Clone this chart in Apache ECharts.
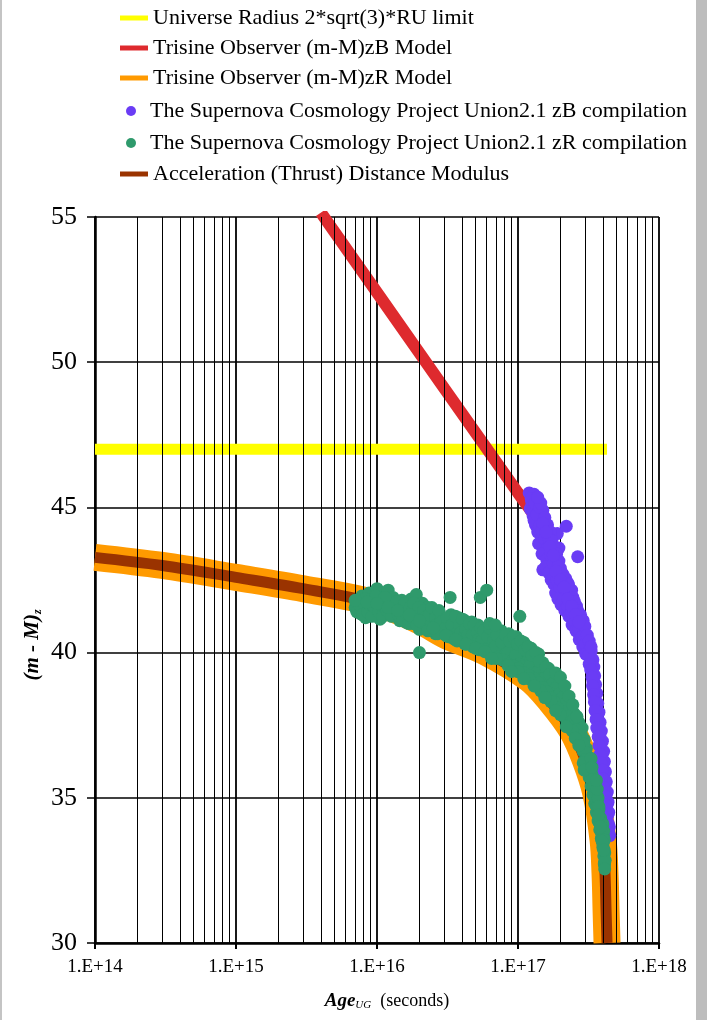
<!DOCTYPE html>
<html>
<head>
<meta charset="utf-8">
<script src="https://cdn.jsdelivr.net/npm/echarts@6/dist/echarts.min.js"></script>
<style>html,body{margin:0;padding:0;background:#fff}#chart{width:707px;height:1020px}</style>
</head>
<body>
<div id="chart"></div>
<script>
// ---------- data ----------
const seriesNames = [
  'Universe Radius 2*sqrt(3)*RU limit',
  'Trisine Observer (m-M)zB Model',
  'Trisine Observer (m-M)zR Model',
  'The Supernova Cosmology Project Union2.1 zB compilation',
  'The Supernova Cosmology Project Union2.1 zR compilation',
  'Acceleration (Thrust) Distance Modulus'
];
const xTickLabels = ['1.E+14', '1.E+15', '1.E+16', '1.E+17', '1.E+18'];
const xMinorGrid = [2e14,3e14,4e14,5e14,6e14,7e14,8e14,9e14,
                    2e15,3e15,4e15,5e15,6e15,7e15,8e15,9e15,
                    2e16,3e16,4e16,5e16,6e16,7e16,8e16,9e16,
                    2e17,3e17,4e17,5e17,6e17,7e17,8e17,9e17];

const radiusLimit = [[1e14, 47.0], [4.28e17, 47.0]];
const zBModel = [[4.0e15, 55.15], [1e16, 52.4], [3e16, 49.1], [1e17, 45.5], [1.3e17, 44.74]];
const zRModel = [[1e14, 43.28], [3e14, 43.0], [1e15, 42.59], [3e15, 42.2], [1e16, 41.69], [2e16, 41.1],
  [3.08e16, 40.59], [5.83e16, 40.03], [1.2e17, 39.1], [1.71e17, 38.31], [2.42e17, 37.31], [3.0e17, 36.3],
  [3.57e17, 35.14], [4.01e17, 33.55], [4.14e17, 32.41], [4.22e17, 31.0], [4.28e17, 30.0]];
const thrustModulus = [[1e14, 43.28], [3e14, 43.0], [1e15, 42.59], [3e15, 42.2], [1e16, 41.69], [2e16, 41.1],
  [3.08e16, 40.59], [5.83e16, 40.03], [1.2e17, 39.1], [1.71e17, 38.31], [2.42e17, 37.31], [3.0e17, 36.3],
  [3.57e17, 35.14], [4.01e17, 33.55], [4.14e17, 32.41], [4.22e17, 31.0], [4.28e17, 30.0]];

const zBPoints = [
  [1.2e17,45.5],[1.25e17,45.2],[1.3e17,45.45],[1.22e17,44.95],[1.35e17,45.0],[1.28e17,44.7],[1.4e17,44.8],
  [1.33e17,44.4],[1.45e17,44.55],[1.5e17,44.9],[1.38e17,44.15],[1.55e17,44.3],[1.47e17,43.95],[1.6e17,44.05],
  [1.9e17,44.1],[2.2e17,44.35],[1.52e17,43.7],[1.65e17,43.8],[1.58e17,43.45],[1.72e17,43.55],[1.5e17,42.85],
  [1.68e17,43.15],[1.8e17,43.3],[2.65e17,43.3],[1.75e17,42.9],[1.85e17,43.0],[1.95e17,43.6],[1.82e17,42.65],
  [1.9e17,42.75],[2.0e17,42.45],[1.95e17,42.2],[2.1e17,42.55],[2.05e17,41.95],[2.15e17,42.2],[2.25e17,42.4],
  [2.2e17,41.75],[2.3e17,41.95],[2.4e17,42.15],[2.35e17,41.5],[2.45e17,41.7],[2.55e17,41.35],[2.6e17,41.6],
  [2.5e17,41.1],[2.7e17,41.2],[2.65e17,40.85],[2.8e17,41.0],[2.75e17,40.6],[2.9e17,40.7],[2.95e17,40.35],
  [3.05e17,40.5],[3.1e17,40.1],[3.2e17,40.25],[3.25e17,39.85],[3.3e17,40.05],
  [3.3e17,39.6],[3.4e17,39.75],[3.35e17,39.35],[3.45e17,39.5],[3.4e17,39.0],[3.5e17,39.2],[3.45e17,38.75],
  [3.55e17,38.9],[3.5e17,38.45],[3.62e17,38.6],[3.58e17,38.1],[3.68e17,38.25],[3.65e17,37.8],[3.75e17,37.95],
  [3.72e17,37.5],[3.82e17,37.6],[3.8e17,37.15],[3.9e17,37.3],[3.88e17,36.85],[3.97e17,36.95],[3.95e17,36.5],
  [4.05e17,36.6],[4.02e17,36.15],[4.1e17,36.25],[4.08e17,35.8],[4.17e17,35.9],[4.15e17,35.45],[4.23e17,35.55],
  [4.22e17,35.1],[4.3e17,35.2],[4.28e17,34.75],[4.35e17,34.85],[4.33e17,34.4],[4.4e17,34.5],[4.38e17,34.1],
  [4.45e17,34.0],[4.47e17,33.7],
  [1.24e17,45.3],[1.27e17,44.9],[1.32e17,45.15],[1.3e17,44.55],[1.36e17,44.75],[1.42e17,44.35],[1.43e17,45.0],
  [1.48e17,44.2],[1.4e17,43.75],[1.55e17,43.9],[1.62e17,43.6],[1.48e17,43.4],[1.6e17,43.2],[1.7e17,43.35],
  [1.57e17,42.95],[1.65e17,42.75],[1.78e17,43.05],[1.72e17,42.5],[1.8e17,42.35],[1.88e17,42.5],[1.85e17,42.05],
  [1.98e17,42.25],[1.92e17,41.85],[2.02e17,41.65],[2.1e17,41.85],[2.15e17,41.45],[2.25e17,41.6],[2.3e17,41.25],
  [2.4e17,41.4],[2.42e17,40.95],[2.55e17,41.05],[2.58e17,40.75],[2.7e17,40.8],[2.72e17,40.45],[2.85e17,40.55],
  [2.88e17,40.2],[3.0e17,40.3],[3.02e17,39.95],[3.15e17,39.9],[3.2e17,39.6],[3.28e17,39.4],[3.35e17,39.15],
  [3.38e17,38.85],[3.44e17,38.55],[3.48e17,38.3],[3.52e17,38.0],[3.58e17,37.7],[3.62e17,37.4],[3.7e17,37.1],
  [3.75e17,36.8],[3.82e17,36.5],[3.88e17,36.2],[3.95e17,35.95],[4.0e17,35.65],[4.05e17,35.35],[4.12e17,35.05],
  [4.18e17,34.75],[4.22e17,34.45],[4.28e17,34.2],[4.32e17,33.9],[4.4e17,33.8],
  [1.55e17,44.65],[1.62e17,44.4],[1.7e17,44.15],[1.65e17,43.95],[1.74e17,43.85],[1.8e17,43.6],[1.88e17,43.4],
  [1.95e17,43.15],[2.0e17,42.9],[1.92e17,42.95],[2.08e17,42.7],[2.18e17,42.55],[2.28e17,42.35],[2.35e17,42.1],
  [2.45e17,41.9],[2.52e17,41.75],[2.65e17,41.45],[2.78e17,41.3],[2.9e17,41.1],[2.98e17,40.9],[3.1e17,40.6],
  [3.2e17,40.4],[3.3e17,40.2],[1.45e17,45.15],[1.38e17,45.35],[1.5e17,44.45],[1.58e17,44.15],[1.68e17,43.65],
  [1.78e17,43.35],[1.85e17,42.8],[2.0e17,42.5],[2.12e17,42.25],[2.25e17,41.85],[2.4e17,41.6],[2.55e17,41.3],
  [2.7e17,41.05]
];

const zRPoints = [
  [7.0e15,41.55],[7.3e15,41.8],[7.6e15,41.35],[7.8e15,41.95],[8.0e15,41.6],[8.3e15,41.2],[8.5e15,41.75],
  [8.8e15,42.05],[9.0e15,41.45],[9.3e15,41.85],[9.6e15,41.3],[1.0e16,42.2],[1.0e16,41.6],[1.05e16,41.15],
  [1.08e16,41.9],[1.12e16,41.5],[1.15e16,41.7],[1.2e16,42.15],[1.22e16,41.3],[1.25e16,41.6],
  [1.3e16,41.9],[1.35e16,41.3],[1.4e16,41.6],[1.45e16,41.1],[1.5e16,41.8],[1.55e16,41.45],[1.6e16,41.05],
  [1.65e16,41.65],[1.7e16,41.3],[1.75e16,41.85],[1.8e16,41.0],[1.85e16,41.5],[1.9e16,42.0],[1.95e16,41.2],
  [2.0e16,40.0],[2.0e16,40.8],[2.05e16,41.4],[2.1e16,41.7],[2.2e16,40.95],[2.25e16,41.25],[2.3e16,41.55],
  [2.4e16,40.8],[2.5e16,41.1],[2.55e16,41.4],[2.6e16,40.65],[2.7e16,41.0],[2.8e16,41.3],[2.9e16,40.85],
  [3.0e16,41.15],[3.1e16,40.6],[3.2e16,40.9],[3.3e16,41.9],[3.35e16,41.3],[3.45e16,40.5],[3.55e16,41.05],
  [3.7e16,40.75],[3.8e16,41.2],[3.9e16,40.45],[4.0e16,40.9],[4.1e16,40.65],[4.2e16,41.1],[4.35e16,40.35],
  [4.5e16,40.8],[4.6e16,40.55],[4.7e16,41.05],[4.8e16,40.25],[4.95e16,40.7],[5.1e16,40.45],[5.2e16,40.95],
  [5.4e16,41.9],[5.5e16,40.15],[5.6e16,40.6],[5.8e16,40.35],[6.0e16,42.15],[6.0e16,40.8],[6.2e16,40.05],
  [6.4e16,40.5],[6.6e16,40.25],[6.8e16,40.7],[7.0e16,39.95],[7.2e16,40.4],[7.4e16,40.15],
  [7.6e16,40.75],[7.8e16,40.1],[8.0e16,40.5],[8.3e16,40.25],[8.6e16,40.65],[8.8e16,39.9],[9.1e16,40.35],
  [9.4e16,40.1],[9.7e16,40.55],[1.0e17,39.75],[1.03e17,41.25],[1.03e17,40.2],[1.06e17,39.95],[1.1e17,40.35],
  [1.13e17,39.65],[1.16e17,40.05],[1.2e17,39.8],[1.24e17,40.15],[1.28e17,39.45],[1.32e17,39.85],[1.36e17,39.6],
  [1.4e17,39.95],[1.45e17,39.3],
  [1.5e17,39.65],[1.55e17,39.3],[1.6e17,39.05],[1.65e17,39.45],[1.7e17,38.9],[1.75e17,39.2],[1.8e17,38.7],
  [1.85e17,39.0],[1.9e17,38.5],[1.95e17,38.85],[2.0e17,38.35],[2.05e17,38.7],[2.1e17,38.15],[2.15e17,38.45],
  [2.2e17,37.95],[2.25e17,38.3],[2.3e17,37.8],[2.35e17,38.1],[2.4e17,37.6],[2.45e17,37.95],
  [2.5e17,37.9],[2.6e17,37.5],[2.65e17,37.1],[2.7e17,37.6],[2.75e17,37.2],[2.8e17,36.9],[2.85e17,37.4],
  [2.9e17,36.6],[2.95e17,37.0],[3.0e17,36.3],[3.05e17,36.7],[3.1e17,36.0],[3.15e17,36.4],[3.2e17,35.7],
  [3.25e17,36.1],[3.3e17,35.4],[3.35e17,35.8],[3.4e17,35.1],[3.45e17,35.5],[3.5e17,34.8],[3.55e17,35.2],
  [3.6e17,34.5],[3.65e17,34.9],[3.7e17,34.2],[3.75e17,34.6],[3.8e17,33.9],[3.85e17,34.3],[3.9e17,33.6],
  [3.95e17,34.0],[4.0e17,33.3],[4.03e17,33.7],[4.06e17,33.0],[4.1e17,32.7],
  [7.2e15,41.4],[7.5e15,41.65],[7.9e15,41.3],[8.2e15,41.85],[8.6e15,41.4],[8.9e15,41.65],[9.2e15,41.25],
  [9.5e15,41.6],[9.8e15,41.95],[1.03e16,41.4],[1.07e16,41.65],[1.1e16,41.25],[1.14e16,41.9],[1.18e16,41.45],
  [1.27e16,41.25],
  [1.32e16,41.55],[1.38e16,41.75],[1.42e16,41.3],[1.48e16,41.5],[1.52e16,41.15],[1.58e16,41.7],[1.62e16,41.35],
  [1.68e16,41.0],[1.72e16,41.55],[1.78e16,41.2],[1.82e16,41.7],[1.88e16,41.3],[1.92e16,40.95],[1.98e16,41.55],
  [2.08e16,41.05],[2.15e16,41.45],[2.2e16,41.2],[2.28e16,40.9],[2.35e16,41.3],[2.45e16,41.55],[2.5e16,40.8],
  [2.6e16,41.2],[2.65e16,40.95],[2.75e16,41.45],[2.85e16,41.05],[2.95e16,40.7],
  [3.05e16,40.85],[3.15e16,41.2],[3.25e16,40.65],[3.4e16,40.95],[3.5e16,40.6],[3.6e16,41.25],[3.75e16,40.5],
  [3.85e16,40.95],[3.95e16,40.7],[4.05e16,41.15],[4.15e16,40.4],[4.25e16,40.8],[4.4e16,40.6],[4.55e16,41.0],
  [4.65e16,40.3],[4.75e16,40.6],[4.9e16,40.95],[5.0e16,40.2],[5.15e16,40.7],[5.3e16,40.45],[5.45e16,40.85],
  [5.55e16,40.4],[5.7e16,40.75],[5.9e16,40.1],[6.1e16,40.55],[6.3e16,40.85],[6.5e16,40.0],[6.7e16,40.4],
  [6.9e16,40.2],[7.1e16,40.6],[7.3e16,39.85],
  [7.7e16,40.35],[7.9e16,39.85],[8.2e16,40.6],[8.5e16,40.0],[8.7e16,40.4],[9.0e16,39.7],[9.3e16,40.55],
  [9.6e16,39.9],[9.9e16,40.3],[1.02e17,39.6],[1.05e17,40.4],[1.08e17,39.5],[1.12e17,40.1],[1.15e17,39.4],
  [1.18e17,40.2],[1.22e17,39.55],[1.26e17,39.9],[1.3e17,39.3],[1.34e17,40.0],[1.38e17,39.35],[1.42e17,39.7],
  [1.47e17,39.1],
  [1.52e17,39.1],[1.58e17,39.5],[1.62e17,38.85],[1.68e17,39.25],[1.72e17,38.6],[1.78e17,38.95],[1.82e17,38.45],
  [1.88e17,38.8],[1.92e17,38.25],[1.98e17,38.6],[2.02e17,38.05],[2.08e17,38.45],[2.12e17,37.85],[2.18e17,38.25],
  [2.22e17,37.65],[2.28e17,38.0],[2.32e17,37.5],[2.38e17,37.85],[2.42e17,37.35],[2.48e17,37.7],
  [2.55e17,37.35],[2.62e17,37.8],[2.72e17,36.95],[2.82e17,37.15],[2.92e17,36.85],[3.02e17,36.55],[3.12e17,36.25],
  [3.22e17,35.95],[3.32e17,35.65],[3.42e17,35.35],[3.52e17,35.0],[3.62e17,34.7],[3.72e17,34.4],[3.82e17,34.1],
  [3.92e17,33.8],[4.02e17,33.45],[4.08e17,33.2],
  [2.3e16,40.75],[2.7e16,40.65],[3.2e16,40.55],[3.7e16,40.4],[4.2e16,40.3],[4.8e16,40.2],[5.3e16,40.1],
  [7.8e16,39.75],[8.5e16,39.6],[9.2e16,39.55],[1.0e17,39.45],[1.1e17,39.3],[1.2e17,39.2],[1.3e17,39.1],
  [1.4e17,38.95],[1.5e17,38.8],[1.6e17,38.65],[1.7e17,38.45],[1.8e17,38.3],[1.9e17,38.1],
  [6.3e16,41.0],[6.9e16,40.95],[1.85e17,39.3],[2.0e17,39.15],[2.15e17,38.85],[2.3e17,38.5],[2.45e17,38.2],
  [7e15,41.8],[8.5e15,41.74],[1e16,41.69],[1.2e16,41.56],[1.4e16,41.45],[1.7e16,41.3],[2e16,41.1],[2.5e16,40.85],
  [3.08e16,40.59],[3.6e16,40.45],[4.3e16,40.29],[5e16,40.15],[5.83e16,40.03],[7e16,39.8],[8.5e16,39.55],
  [1e17,39.34],[1.2e17,39.1],[1.45e17,38.68],[1.71e17,38.31],[2e17,37.86],[2.42e17,37.31],[2.55e17,37.05],
  [2.7e17,36.8],[3e17,36.3],[3.15e17,35.98],[3.3e17,35.67],[3.45e17,35.4],[3.57e17,35.14],[3.68e17,34.7],
  [3.8e17,34.28],[3.9e17,33.9],[4.01e17,33.55],[4.1e17,32.75],
  [2.9e17,36.2],[3.3e17,36.35],[2.95e17,35.95],[3.35e17,36.05],[3.7e17,35.0],[3.75e17,34.7],[3.65e17,35.3],
  [3.6e17,35.6],[4.0e17,34.1],[4.05e17,33.85],[4.1e17,33.55],[4.12e17,33.1],[4.15e17,32.85],
  [6.5e16,39.8],[9.0e16,39.35],[1.1e17,39.1],[1.3e17,38.85],[1.55e17,38.45],[1.85e17,38.0],[2.2e17,37.45],
  [3.7e17,34.4],[3.85e17,34.0],[3.95e17,33.5],[4.05e17,33.2],[4.12e17,32.55]
];

// ---------- chart ----------
const FONT = 'Liberation Serif';
const chart = echarts.init(document.getElementById('chart'), null, {renderer: 'canvas'});
const legendText = {fontFamily: FONT, fontSize: 22, color: '#000', lineHeight: 22};

chart.setOption({
  animation: false,
  backgroundColor: '#fff',
  graphic: [
    {type: 'rect', left: 696, top: 0, shape: {width: 11, height: 1020}, style: {fill: '#bdbdbd'}, silent: true},
    {type: 'rect', left: 0, top: 0, shape: {width: 2, height: 1020}, style: {fill: '#c4c4c4'}, silent: true},
    {type: 'text', x: 33, y: 645, rotation: Math.PI / 2, silent: true,
     style: {text: '{a|(m - M)}{b|z}', align: 'center', verticalAlign: 'middle',
       rich: {
         a: {fontFamily: FONT, fontSize: 21, fontWeight: 'bold', fontStyle: 'italic', fill: '#000', lineHeight: 22},
         b: {fontFamily: FONT, fontSize: 12, fontWeight: 'bold', fontStyle: 'italic', fill: '#000', verticalAlign: 'bottom', lineHeight: 14, padding: [8, 0, 0, 0]}
       }}},
    {type: 'text', x: 387, y: 1001, silent: true,
     style: {text: '{a|Age}{b|UG}{c|  (seconds)}', align: 'center', verticalAlign: 'middle',
       rich: {
         a: {fontFamily: FONT, fontSize: 19, fontWeight: 'bold', fontStyle: 'italic', fill: '#000', lineHeight: 20},
         b: {fontFamily: FONT, fontSize: 11, fontStyle: 'italic', fill: '#000', verticalAlign: 'bottom', lineHeight: 14, padding: [7, 0, 0, 0]},
         c: {fontFamily: FONT, fontSize: 18, fill: '#000', lineHeight: 20}
       }}}
  ],
  grid: {left: 95, right: 48, top: 217, bottom: 77},
  legend: [
    {orient: 'vertical', left: 120, top: 7, padding: 0, itemGap: 8, itemWidth: 28, itemHeight: 5,
     selectedMode: false, textStyle: legendText,
     data: [{name: seriesNames[0], icon: 'rect'}, {name: seriesNames[1], icon: 'rect'}, {name: seriesNames[2], icon: 'rect'}]},
    {orient: 'vertical', left: 126, top: 100, padding: 0, itemGap: 10, itemWidth: 28, itemHeight: 10,
     selectedMode: false, textStyle: legendText,
     data: [{name: seriesNames[3], icon: 'circle'}, {name: seriesNames[4], icon: 'circle'}]},
    {orient: 'vertical', left: 120, top: 163, padding: 0, itemGap: 8, itemWidth: 28, itemHeight: 5,
     selectedMode: false, textStyle: legendText,
     data: [{name: seriesNames[5], icon: 'rect'}]}
  ],
  xAxis: {
    type: 'log', logBase: 10, min: 1e14, max: 1e18,
    axisLine: {show: true, lineStyle: {color: '#000', width: 2.5}},
    axisTick: {show: true, length: 6, lineStyle: {color: '#000', width: 2}},
    axisLabel: {fontFamily: FONT, fontSize: 19, color: '#000', margin: 15,
      formatter: v => xTickLabels[Math.round(Math.log10(v)) - 14]},
    splitLine: {show: true, lineStyle: {color: '#000', width: 1.8}}
  },
  yAxis: {
    type: 'value', min: 30, max: 55, interval: 5,
    axisLine: {show: true, lineStyle: {color: '#000', width: 2.5}},
    axisTick: {show: true, length: 8, lineStyle: {color: '#000', width: 1.5}},
    axisLabel: {fontFamily: FONT, fontSize: 26, color: '#000', margin: 18},
    splitLine: {show: true, lineStyle: {color: '#000', width: 1.5}}
  },
  series: [
    {name: 'minorGrid', type: 'line', data: [], silent: true, z: 1,
     markLine: {silent: true, symbol: ['none', 'none'], label: {show: false},
       lineStyle: {color: '#000', width: 1, type: 'solid'},
       emphasis: {disabled: true},
       data: xMinorGrid.map(v => ({xAxis: v}))}},
    {name: seriesNames[0], type: 'line', data: radiusLimit, showSymbol: false, symbol: 'none', z: 3,
     lineStyle: {color: '#ffff00', width: 11}, itemStyle: {color: '#ffff00'}},
    {name: seriesNames[1], type: 'line', data: zBModel, showSymbol: false, symbol: 'none', z: 3,
     lineStyle: {color: '#de2a2e', width: 12}, itemStyle: {color: '#de2a2e'}},
    {name: seriesNames[2], type: 'line', data: zRModel, showSymbol: false, symbol: 'none', smooth: 0.35, z: 3,
     lineStyle: {color: '#ff9a00', width: 27}, itemStyle: {color: '#ff9a00'}},
    {name: seriesNames[5], type: 'line', data: thrustModulus, showSymbol: false, symbol: 'none', smooth: 0.35, z: 3,
     lineStyle: {color: '#9a3300', width: 11}, itemStyle: {color: '#9a3300'}},
    {name: seriesNames[3], type: 'scatter', data: zBPoints, symbolSize: 13, z: 5,
     itemStyle: {color: '#6a3cf5', opacity: 1}},
    {name: seriesNames[4], type: 'scatter', data: zRPoints, symbolSize: 13, z: 5,
     itemStyle: {color: '#2f9a6c', opacity: 1}}
  ]
});
</script>
</body>
</html>
